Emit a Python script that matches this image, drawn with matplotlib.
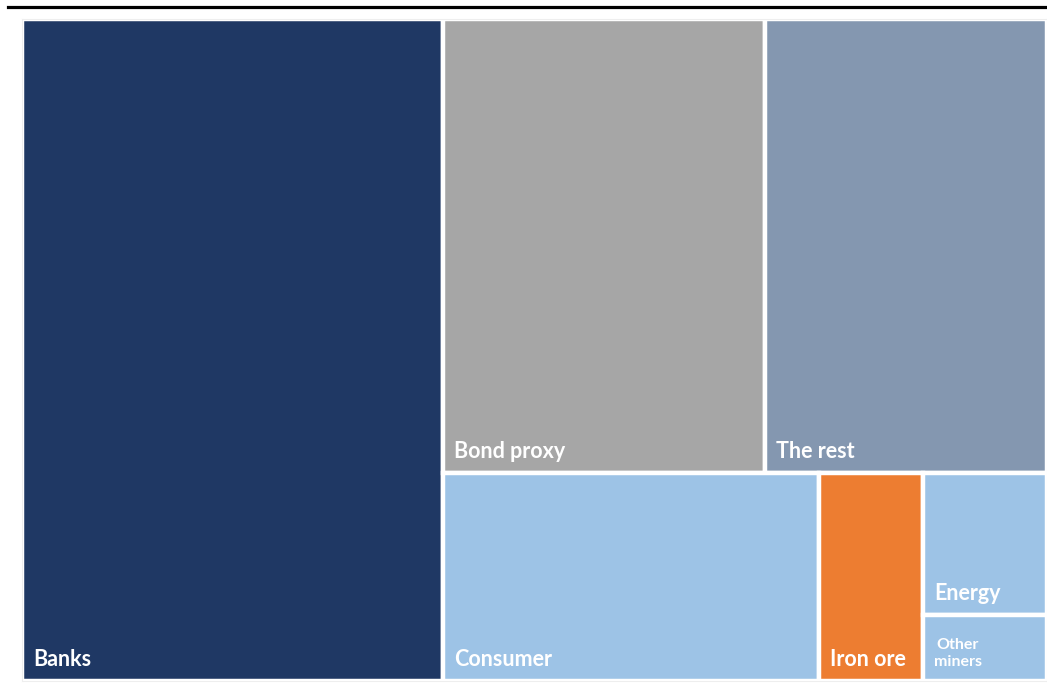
import matplotlib
matplotlib.use("Agg")
import matplotlib.pyplot as plt
from matplotlib.patches import Rectangle
from matplotlib.lines import Line2D
import matplotlib.transforms as mtransforms

# Data (share of index, %)
categories = ["Banks", "Bond proxy", "The rest", "Consumer", "Iron ore", "Energy", "Other miners"]
values = [41.1, 21.5, 18.9, 11.5, 3.2, 2.6, 1.2]
colors = ["#1F3864", "#A6A6A6", "#8497B0", "#9DC3E6", "#ED7D31", "#9DC3E6", "#9DC3E6"]
labels = ["Banks", "Bond proxy", "The rest", "Consumer", "Iron ore", "Energy", "Other\nminers"]

W, H = 1047, 692
fig = plt.figure(figsize=(W / 100, H / 100), dpi=100)
ax = fig.add_axes([22 / W, (H - 681) / H, (1047 - 22) / W, (681 - 19) / H])
ax.set_xlim(0, 1)
ax.set_ylim(0, 1)
for s in ax.spines.values():
    s.set_color("#EEEEEE")
    s.set_linewidth(0.8)
ax.set_xticks([])
ax.set_yticks([])

v = dict(zip(categories, values))
total = sum(values)

# Layout (Excel-style): Banks column, then two rows in the remainder
rects = {}
bw = v["Banks"] / total
rects["Banks"] = (0, 0, bw, 1)
rem = total - v["Banks"]
top = v["Bond proxy"] + v["The rest"]
th = top / rem
rw = 1 - bw
x = bw
for c in ["Bond proxy", "The rest"]:
    w = rw * v[c] / top
    rects[c] = (x, 1 - th, w, th)
    x += w
bottom = rem - top
bh = 1 - th
x = bw
for c in ["Consumer", "Iron ore"]:
    w = rw * v[c] / bottom
    rects[c] = (x, 0, w, bh)
    x += w
col = v["Energy"] + v["Other miners"]
cw = rw * col / bottom
eh = bh * v["Energy"] / col
rects["Energy"] = (x, bh - eh, cw, eh)
rects["Other miners"] = (x, 0, cw, bh - eh)

fam = ["Lato", "DejaVu Sans"]
for c, col_, lab in zip(categories, colors, labels):
    x0, y0, w, h = rects[c]
    ax.add_patch(Rectangle((x0, y0), w, h, facecolor=col_, edgecolor="white", linewidth=3.2))
    if c == "Other miners":
        tr = mtransforms.offset_copy(ax.transData, fig=fig, x=35, y=15, units="dots")
        ax.text(x0, y0, lab, transform=tr, color="white", fontsize=11.5, fontweight="bold",
                family=fam, ha="center", va="baseline", linespacing=1.25)
    else:
        tr = mtransforms.offset_copy(ax.transData, fig=fig, x=11, y=15.5, units="dots")
        ax.text(x0, y0, lab, transform=tr, color="white", fontsize=15.5, fontweight="bold",
                family=fam, ha="left", va="baseline")

fig.add_artist(Line2D([8 / W, 1.0], [1 - 6.5 / H, 1 - 6.5 / H], color="black", linewidth=2.3,
                      transform=fig.transFigure))

fig.savefig("out.png", dpi=100, facecolor="white")
